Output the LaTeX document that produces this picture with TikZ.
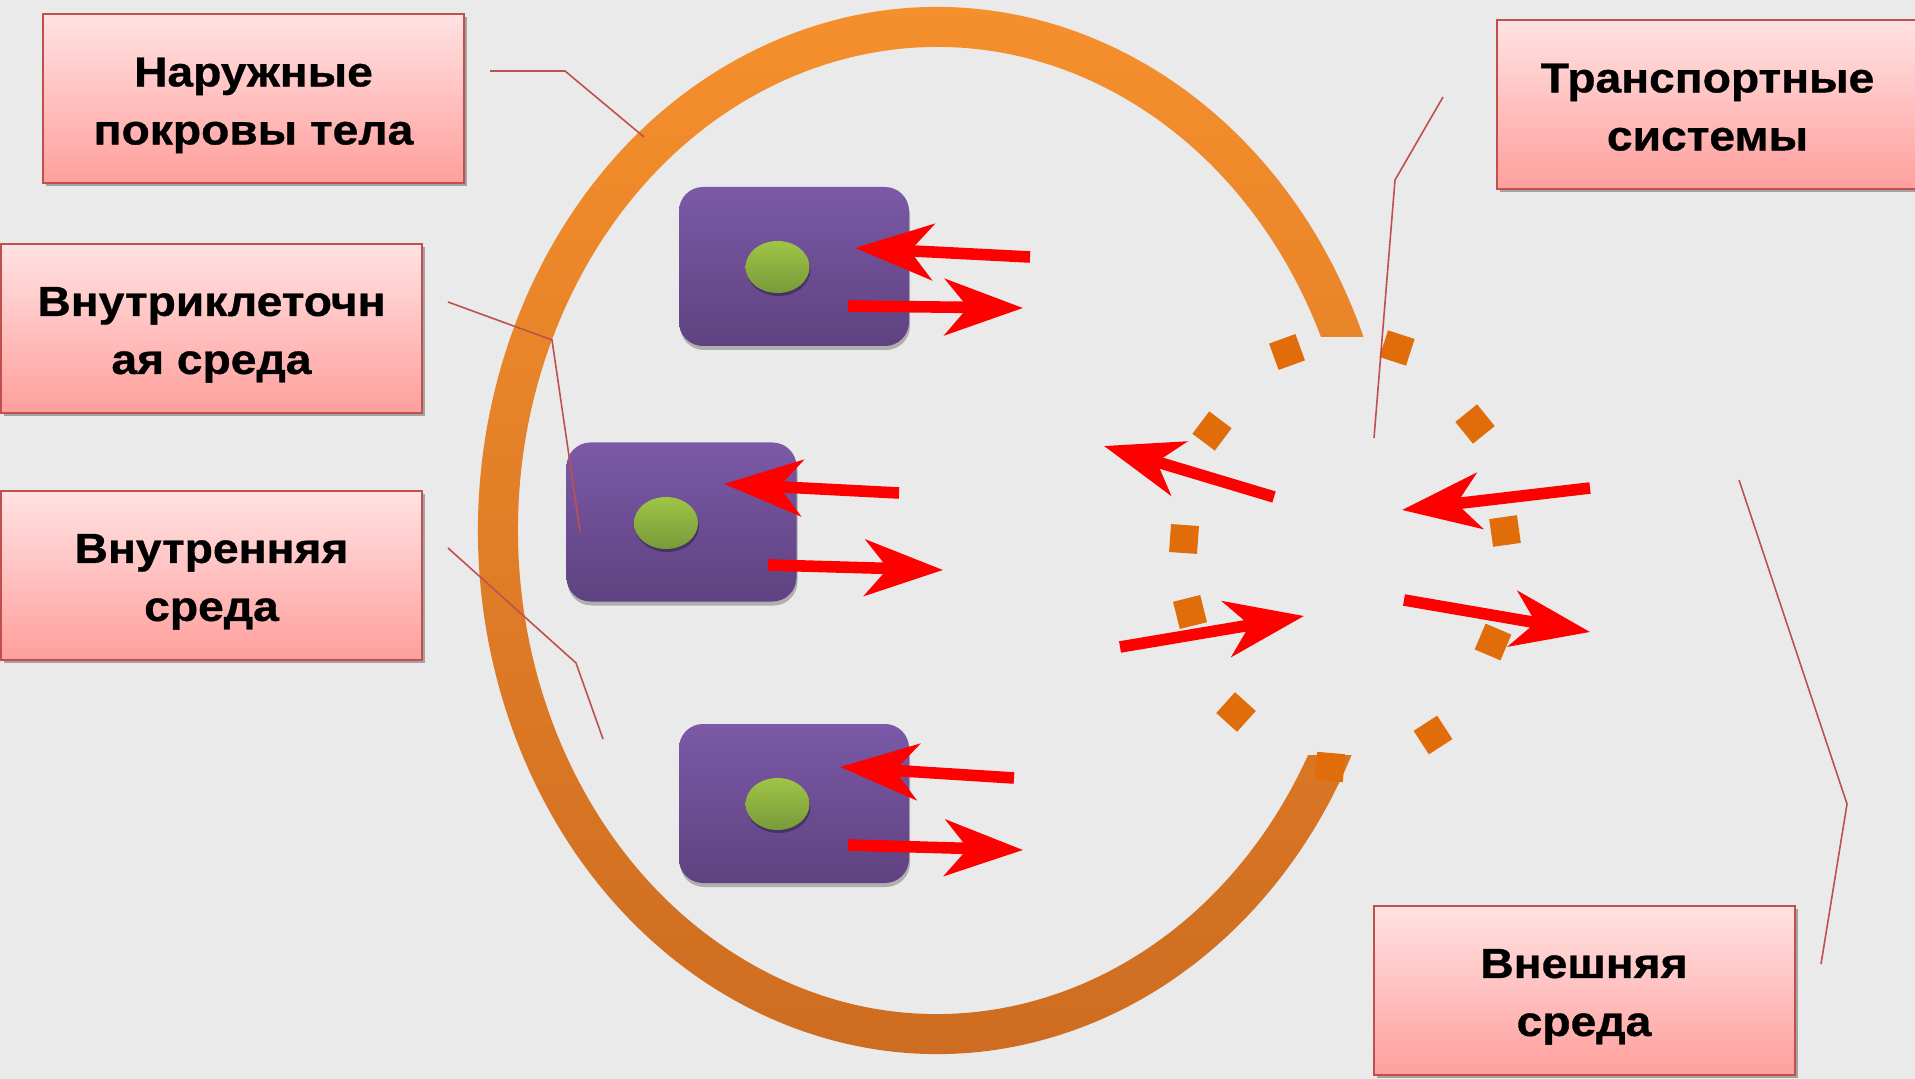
\documentclass[tikz,border=0pt]{standalone}
\usepackage{fontspec}
\setmainfont{Liberation Sans}
\newfontfamily\labelfont{Liberation Sans}[FakeStretch=1.1, BoldFeatures={FakeBold=0.8}]
\usepackage{xcolor}
\usetikzlibrary{arrows.meta,positioning,shapes.geometric,shadows,calc}

\definecolor{bggray}{HTML}{EAEAEA}
\definecolor{boxtop}{HTML}{FFE2E2}
\definecolor{boxbot}{HTML}{FF9F9C}
\definecolor{boxline}{HTML}{C0504D}
\definecolor{ringtop}{HTML}{F8922E}
\definecolor{ringbot}{HTML}{CB6A20}
\definecolor{celltop}{HTML}{7B59A7}
\definecolor{cellbot}{HTML}{5E4280}
\definecolor{nuctop}{HTML}{9EC546}
\definecolor{nucbot}{HTML}{789A3A}
\definecolor{dotorange}{HTML}{E06C0A}

\begin{document}
\begin{tikzpicture}[x=0.5pt, y=-0.5pt,
    namebox/.style={rectangle, draw=boxline, line width=1pt, top color=boxtop, bottom color=boxbot,
        minimum width=210.5pt, minimum height=84.5pt, align=center,
        font=\labelfont\fontsize{21pt}{29pt}\selectfont\bfseries,
        text height=50.4pt, text depth=5pt,
        drop shadow={shadow xshift=1.5pt, shadow yshift=-1.5pt, opacity=0.3, fill=black}},
    cell/.style={rectangle, rounded corners=12pt, top color=celltop, bottom color=cellbot,
        minimum width=115pt, minimum height=79.5pt,
        drop shadow={shadow xshift=0.5pt, shadow yshift=-2pt, opacity=0.25, fill=black}},
    nucleus/.style={ellipse, top color=nuctop, bottom color=nucbot, minimum width=32pt, minimum height=26pt,
        inner sep=0pt, drop shadow={shadow xshift=0.5pt, shadow yshift=-1.5pt, opacity=0.3, fill=black}},
    grain/.style={rectangle, fill=dotorange, minimum size=14pt, inner sep=0pt},
    flow/.style={-{Stealth[length=39pt, width=28pt, inset=11.5pt]}, line width=5.8pt, draw=red, fill=red},
    pointer/.style={draw=boxline, line width=0.8pt}
]
    \useasboundingbox (0,0) rectangle (1915,1079);
    \fill[bggray] (0,0) rectangle (1915,1079);

    % Body wall (open ring)
    \coordinate (body) at (937,530.5);
    \shade[top color=ringtop, bottom color=ringbot]
        ($(body)+(-21.7:459 and 523.5)$)
        arc[start angle=-21.7, end angle=-334.6, x radius=459, y radius=523.5]
        -- ($(body)+(-332.3:419 and 483.5)$)
        arc[start angle=-332.3, end angle=-23.6, x radius=419, y radius=483.5]
        -- cycle;

    % Transport system grains
    \foreach \x/\y/\r [count=\i] in {1287/352/110, 1397/348/72, 1475/424/39, 1212/431/143,
        1505/531/8, 1184/539/176, 1190/612/194, 1493/642/337, 1236/712/228, 1433/735/303, 1330/767/265}
        \node[grain, rotate=\r] (g\i) at (\x,\y) {};

    % Cells
    \node[cell] (cell1) at (794,266.5) {};
    \node[cell] (cell2) at (681.5,522) {};
    \node[cell] (cell3) at (794,803.5) {};
    \node[nucleus] (nuc1) at (777.5,267) {};
    \node[nucleus] (nuc2) at (666,523) {};
    \node[nucleus] (nuc3) at (777.5,804) {};

    % Exchange arrows at the cells
    \draw[flow] (1030,257) -- (855,248);
    \draw[flow] (848,306) -- (1023,308);
    \draw[flow] (899,493) -- (724,484);
    \draw[flow] (768,565) -- (943,570);
    \draw[flow] (1014,778) -- (840,767);
    \draw[flow] (848,845) -- (1023,850);

    % Exchange arrows at the opening
    \draw[flow] (1274,497) -- (1104,446);
    \draw[flow] (1120,647) -- (1304,616);
    \draw[flow] (1590,488) -- (1402,510);
    \draw[flow] (1404,600) -- (1590,632);

    % Labels
    \node[namebox] (skin) at (253.5,99) {Наружные\\покровы тела};
    \node[namebox] (intra) at (211.5,328.5) {Внутриклеточн\\ая среда};
    \node[namebox] (inner) at (211.5,575.5) {Внутренняя\\среда};
    \node[namebox] (transport) at (1707.5,105) {Транспортные\\системы};
    \node[namebox] (outer) at (1584,990.5) {Внешняя\\среда};

    % Pointer lines
    \coordinate (skinA) at (490,71);    \coordinate (skinB) at (565,71);    \coordinate (skinC) at (644,137);
    \coordinate (intraA) at (448,302);  \coordinate (intraB) at (552,340);  \coordinate (intraC) at (580,531);
    \coordinate (innerA) at (448,548);  \coordinate (innerB) at (576,663);  \coordinate (innerC) at (603,739);
    \coordinate (transA) at (1443,97);  \coordinate (transB) at (1395,180); \coordinate (transC) at (1374,438);
    \coordinate (outerA) at (1739,480); \coordinate (outerB) at (1847,804); \coordinate (outerC) at (1821,964);
    \draw[pointer] (skinA) -- (skinB) -- (skinC);
    \draw[pointer] (intraA) -- (intraB) -- (intraC);
    \draw[pointer] (innerA) -- (innerB) -- (innerC);
    \draw[pointer] (transA) -- (transB) -- (transC);
    \draw[pointer] (outerA) -- (outerB) -- (outerC);

\end{tikzpicture}
\end{document}
